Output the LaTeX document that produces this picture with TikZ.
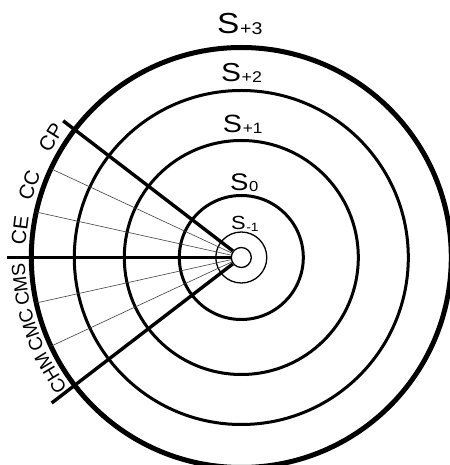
\documentclass[tikz,border=0pt]{standalone}
\usepackage{fontspec}
\setmainfont{Liberation Sans}
\newcommand\Slab[4]{{\fontsize{#1}{#1}\selectfont S}\kern0.6pt{\fontsize{#2}{#2}\selectfont\raisebox{#4}{#3}}}
\begin{document}
\begin{tikzpicture}[x=1pt,y=1pt,
  ring/.style={line width=3pt},
  outerring/.style={line width=5pt},
  innerring/.style={line width=1.3pt},
  spoke/.style={line width=3.4pt},
  thinspoke/.style={line width=0.6pt, black!75},
  lab/.style={inner sep=0pt, font=\fontsize{20.5}{20.5}\selectfont},
  lablow/.style={inner sep=0pt, font=\fontsize{19}{19}\selectfont},
  slab/.style={inner sep=0pt, anchor=base west, xscale=1.15}]
\useasboundingbox (-241.3,-207.5) rectangle (207.7,257.5);
\coordinate (c) at (0,0);
% rings
\draw[outerring] (c) circle (210);
\draw[ring] (c) circle (167);
\draw[ring] (c) circle (117);
\draw[ring] (c) circle (62);
\draw[innerring] (c) circle (25.5);
\node[draw, circle, line width=1.3pt, minimum size=20pt, inner sep=0pt, fill=white] (hub) at (c) {};
% thin spokes
\foreach \a in {155,167.5,192.5,205}
  \draw[thinspoke] (hub.\a) -- (\a:210);
% thick spokes
\coordinate (e1) at (142.5:224.5);
\coordinate (e2) at (180:234.3);
\coordinate (e3) at (217.5:239);
\draw[spoke] (hub.142.5) -- (e1);
\draw[spoke, line width=3.8pt] (hub.180) -- (e2);
\draw[spoke] (hub.217.5) -- (e3);
% sector labels
\node[lab, rotate=57.7] (cp) at (147.7:225) {CP};
\node[lab, rotate=71.2] (cc) at (161.2:224) {CC};
\node[lab, rotate=83] (ce) at (173:223) {CE};
\node[lablow, rotate=97] (cms) at (187:222.5) {CMS};
\node[lablow, rotate=109] (cmc) at (199:222.5) {CMC};
\node[lablow, rotate=121.2] (chm) at (211.2:223) {CHM};
% shell labels
\node[slab] (s3) at (-24.3,224) {\Slab{29}{17}{+3}{-1pt}};
\node[slab] (s2) at (-20.5,175.5) {\Slab{26}{15.5}{+2}{-1pt}};
\node[slab] (s1) at (-18.6,124.5) {\Slab{25}{15}{+1}{-1pt}};
\node[slab] (s0) at (-11.5,67) {\Slab{24}{14.5}{0}{-1pt}};
\node[slab] (sm1) at (-10.5,27.5) {\Slab{19}{12}{-1}{-2pt}};
\end{tikzpicture}
\end{document}
